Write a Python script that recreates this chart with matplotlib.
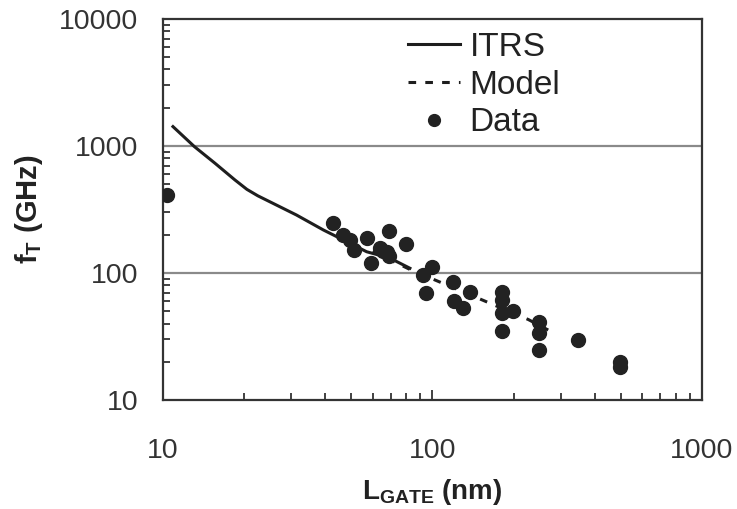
import numpy as np
import matplotlib
matplotlib.use("Agg")
import matplotlib.pyplot as plt
from matplotlib.ticker import LogLocator, NullFormatter, FixedLocator

plt.rcParams['font.family'] = ['Liberation Sans', 'DejaVu Sans']
plt.rcParams['mathtext.fontset'] = 'custom'
plt.rcParams['mathtext.rm'] = 'Liberation Sans'
plt.rcParams['mathtext.bf'] = 'Liberation Sans:bold'

# ITRS roadmap curve
itrs_x = [10.9, 13.1, 15.6, 18.5, 20.5, 22.5, 25.5, 31.3, 39.4, 46.7, 57, 69.5, 82.5]
itrs_y = [1419, 986, 731, 540, 455, 405, 355, 286, 218, 182, 147, 131, 109]

# model curve
model_x = [60, 83, 105, 154, 227, 280]
model_y = [148, 106, 86, 61, 43, 34]

# measured data
data_x = [10.4, 42.7, 46.7, 49.4, 51.2, 57.3, 59.4, 69.1, 79.8, 63.8, 65.5, 68, 69,
          92.5, 100, 94.6, 119.5, 138, 120, 130, 180.5, 180.5, 180.5, 199.5, 180.5,
          249, 249, 249, 347.5, 496, 496]
data_y = [410, 249, 199, 182, 152, 187, 120, 214, 169, 156, 148, 145, 135,
          96, 112, 70, 84.5, 70.8, 60.6, 52.7, 71, 61, 48.2, 50.3, 34.9,
          41.3, 33.5, 24.8, 29.6, 20, 18.3]

fig = plt.figure(figsize=(7.37, 5.09), dpi=100)
ax = fig.add_axes([0.221, 0.214, 0.7315, 0.749])

ax.set_xscale('log')
ax.set_yscale('log')
ax.set_xlim(10, 1000)
ax.set_ylim(10, 10000)

for yv in [100, 1000]:
    ax.axhline(yv, color='#8a8a8a', lw=1.6, zorder=1)

ax.plot(itrs_x, itrs_y, color='#1e1e1e', lw=2.2, label='ITRS', zorder=3)
ax.plot(model_x, model_y, color='#1e1e1e', lw=2.2, ls=(0, (2.5, 3)), label='Model', zorder=3)
ax.plot(data_x, data_y, 'o', color='#222222', ms=10, label='Data', zorder=4)

for s in ax.spines.values():
    s.set_color('#333333')
    s.set_linewidth(1.6)

ax.xaxis.set_major_locator(FixedLocator([10, 100, 1000]))
ax.xaxis.set_minor_locator(LogLocator(base=10, subs=np.arange(2, 10)))
ax.xaxis.set_minor_formatter(NullFormatter())
ax.yaxis.set_major_locator(FixedLocator([10, 100, 1000, 10000]))
ax.yaxis.set_minor_locator(LogLocator(base=10, subs=np.arange(2, 10)))
ax.yaxis.set_minor_formatter(NullFormatter())
ax.set_xticklabels(['10', '100', '1000'])
ax.set_yticklabels(['10', '100', '1000', '10000'])

ax.tick_params(which='both', direction='in', top=False, right=False,
               color='#333333', width=1.3, labelcolor='#333333')
ax.tick_params(which='major', length=7, labelsize=20.5)
ax.tick_params(axis='x', which='major', pad=27)
ax.tick_params(axis='y', which='major', pad=17.5, length=0)
ax.tick_params(which='minor', length=5)

ax.set_xlabel(r'$\mathbf{L_{GATE}}$ (nm)', fontsize=20, fontweight='bold',
              color='#222222', labelpad=10)
ax.set_ylabel(r'$\mathbf{f_{T}}$ (GHz)', fontsize=21, fontweight='bold',
              color='#222222', labelpad=10)

leg = ax.legend(loc='upper left', bbox_to_anchor=(0.423, 1.009), frameon=False,
                fontsize=24, handlelength=1.56, handletextpad=0.3,
                labelspacing=0.2, borderpad=0, markerscale=0.85)
for t in leg.get_texts():
    t.set_color('#222222')

fig.savefig('out.png', dpi=100)
